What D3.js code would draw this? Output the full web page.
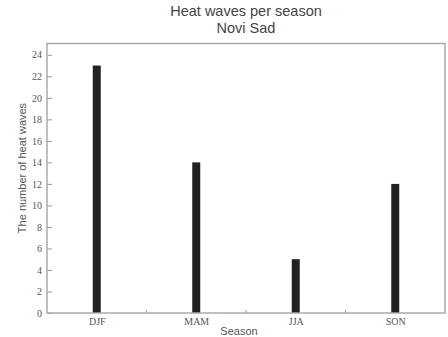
<!DOCTYPE html>
<html lang="en">
<head>
<meta charset="UTF-8">
<title>Heat waves per season</title>
<style>
  body { margin: 0; padding: 0; background: #fff; }
  svg { display: block; }
  .tick text { font-family: "Liberation Serif", "DejaVu Serif", serif; font-size: 10px; fill: #555; }
</style>
</head>
<body>
<script src="https://d3js.org/d3.v7.min.js"></script>
<script>
  const seasons = ['DJF', 'MAM', 'JJA', 'SON']
  const heatWaves = [23, 14, 5, 12]
  const yTicks = [0, 2, 4, 6, 8, 10, 12, 14, 16, 18, 20, 22, 24]
  const minorX = [1.5, 2.5, 3.5]

  const width = 448
  const height = 337
  const margin = { top: 43.5, right: 3, bottom: 24, left: 47 }

  const svg = d3.select('body').append('svg')
    .attr('width', width)
    .attr('height', height)

  const x = d3.scaleLinear()
    .domain([0.5, 4.5])
    .range([margin.left, width - margin.right])

  const y = d3.scaleLinear()
    .domain([0, 25.05])
    .range([height - margin.bottom, margin.top])

  // bars
  svg.append('g')
    .selectAll('rect')
    .data(heatWaves)
    .join('rect')
    .attr('x', (d, i) => x(i + 1) - 4)
    .attr('width', 8)
    .attr('y', d => y(d))
    .attr('height', d => y(0) - y(d))
    .attr('fill', '#222')

  // y axis, ticks pointing inward
  const yAxis = svg.append('g')
    .attr('transform', `translate(${margin.left},0)`)
    .call(d3.axisLeft(y).tickValues(yTicks).tickSize(-5).tickPadding(5))
  yAxis.select('.domain').remove()
  yAxis.selectAll('.tick line').attr('stroke', '#999')

  // x axis, category labels
  const xAxis = svg.append('g')
    .attr('transform', `translate(0,${y(0)})`)
    .call(d3.axisBottom(x).tickValues([1, 2, 3, 4]).tickFormat((d, i) => seasons[i]).tickSize(0).tickPadding(5))
  xAxis.select('.domain').remove()

  // minor x ticks
  svg.append('g')
    .selectAll('line')
    .data(minorX)
    .join('line')
    .attr('x1', d => x(d)).attr('x2', d => x(d))
    .attr('y1', y(0)).attr('y2', y(0) - 3)
    .attr('stroke', '#999')

  // frame
  svg.append('rect')
    .attr('x', margin.left)
    .attr('y', margin.top)
    .attr('width', width - margin.right - margin.left)
    .attr('height', y(0) - margin.top)
    .attr('fill', 'none')
    .attr('stroke', '#aaa')
    .attr('stroke-width', 1.5)

  // titles
  const cx = (margin.left + width - margin.right) / 2
  const font = 'Liberation Sans, Arial, sans-serif'
  svg.append('text')
    .attr('x', cx).attr('y', 16)
    .attr('text-anchor', 'middle')
    .style('font-family', font)
    .style('font-size', '14.5px')
    .attr('fill', '#444')
    .text('Heat waves per season')
  svg.append('text')
    .attr('x', cx).attr('y', 33)
    .attr('text-anchor', 'middle')
    .style('font-family', font)
    .style('font-size', '14.5px')
    .attr('fill', '#444')
    .text('Novi Sad')

  svg.append('text')
    .attr('x', 239).attr('y', 335)
    .attr('text-anchor', 'middle')
    .style('font-family', font)
    .style('font-size', '11px')
    .attr('fill', '#555')
    .text('Season')

  svg.append('text')
    .attr('transform', 'translate(26,168) rotate(-90)')
    .attr('text-anchor', 'middle')
    .style('font-family', font)
    .style('font-size', '11px')
    .attr('fill', '#555')
    .text('The number of heat waves')
</script>
</body>
</html>
